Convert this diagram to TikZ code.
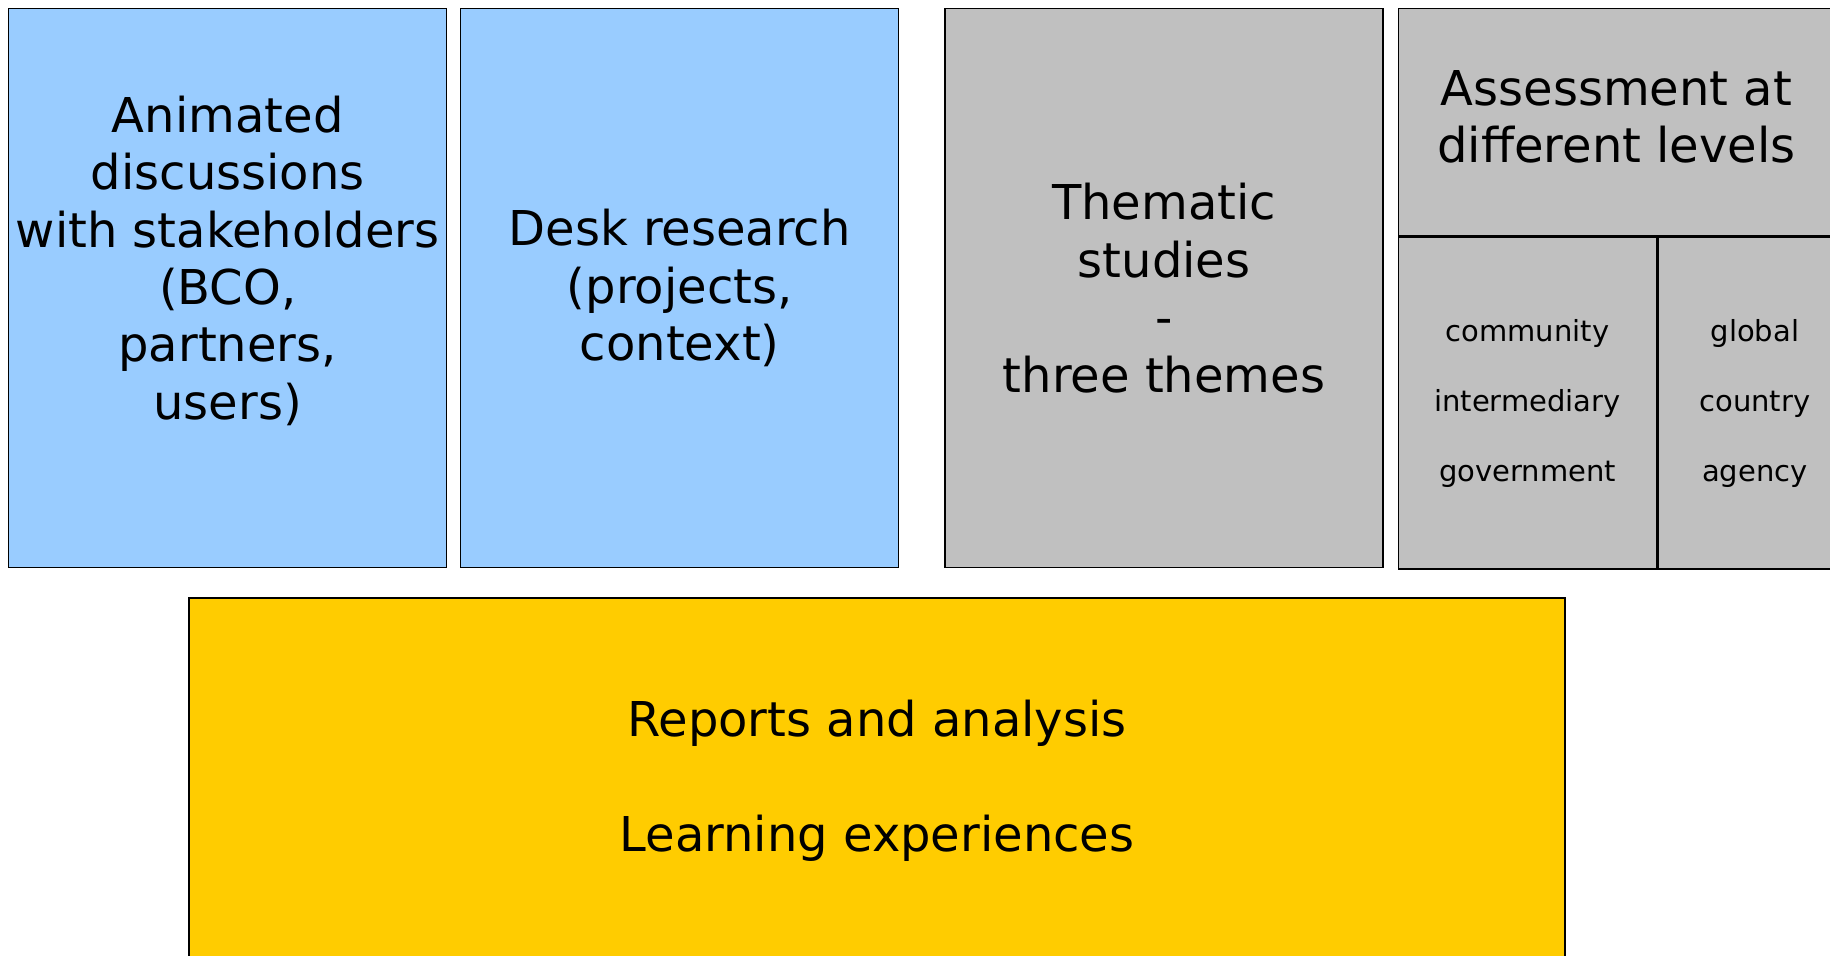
\documentclass[tikz,border=0pt]{standalone}
\usepackage{fontspec}
\setmainfont{DejaVu Sans}
\usepackage{tikz}
\usetikzlibrary{positioning,calc}
\definecolor{skyblue}{RGB}{153,204,255}
\definecolor{silvergray}{RGB}{192,192,192}
\definecolor{gold}{RGB}{255,204,0}
\tikzset{
  basic/.style    = {draw, line width=0.7pt, rectangle, inner sep=0pt, align=center,
                     font=\fontsize{24}{28.7}\selectfont},
  bluebox/.style  = {basic, fill=skyblue, minimum width=219pt, minimum height=279.5pt},
  graybox/.style  = {basic, fill=silvergray, minimum width=219pt, minimum height=279.5pt},
  levelhead/.style = {basic, fill=silvergray, minimum width=218pt, minimum height=113.5pt},
  levelcell/.style = {basic, fill=silvergray, minimum height=166pt,
                     font=\fontsize{14.5}{35}\selectfont},
  output/.style   = {basic, fill=gold, minimum width=688pt, minimum height=183pt},
  label/.style    = {align=center, inner sep=0pt, font=\fontsize{24}{28.7}\selectfont}
}

\begin{document}
\begin{tikzpicture}
  \useasboundingbox (0,0) rectangle (915pt,-478pt);
  \node[bluebox, anchor=north west] (disc) at (4pt,-4pt) {};
  \node[label] (disctext) at ([yshift=13.75pt]disc.center)
       {Animated\\discussions\\with stakeholders\\(BCO,\\partners,\\users)};
  \node[bluebox, right=6.3pt of disc] (desk) {Desk research\\(projects,\\context)};
  \node[graybox, right=22.5pt of desk] (theme) {Thematic\\studies\\-\\three themes};
  \node[levelhead, anchor=north west] (assess) at ($(theme.north east)+(7pt,0)$) {};
  \node[label] (assesstext) at ([yshift=2.8pt]assess.center)
       {Assessment at\\different levels};
  \node[levelcell, minimum width=129pt, anchor=north west] (local) at (assess.south west)
       {community\\intermediary\\government};
  \node[levelcell, minimum width=97pt, anchor=north west] (wide) at (local.north east)
       {global\\country\\agency};
  \node[output] (report) at (438.5pt,-390.5pt)
       {Reports and analysis\\[28.7pt]Learning experiences};
\end{tikzpicture}
\end{document}
